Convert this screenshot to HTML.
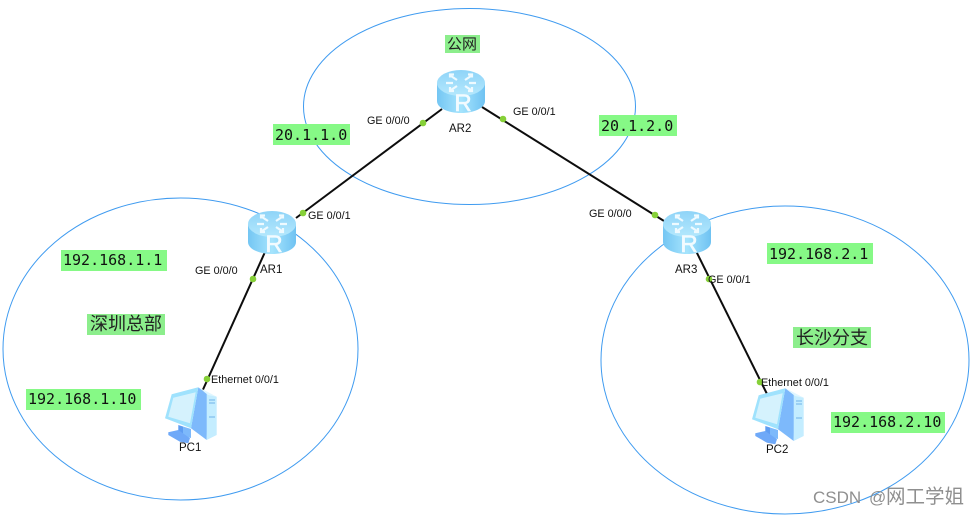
<!DOCTYPE html>
<html>
<head>
<meta charset="utf-8">
<style>
html,body{margin:0;padding:0;background:#fff;width:980px;height:515px;overflow:hidden}
svg{display:block}
.l{font:10.8px "Liberation Sans",sans-serif;fill:#111}
.n{font:11.5px "Liberation Sans",sans-serif;fill:#111}
.m{font:15px "DejaVu Sans Mono","Liberation Mono",monospace;fill:#111}
.c{font:18px "Liberation Sans","Noto Sans CJK SC",sans-serif;fill:#222}
</style>
</head>
<body>
<svg width="980" height="515" viewBox="0 0 980 515" xmlns="http://www.w3.org/2000/svg">
<defs>
<linearGradient id="rb" x1="0" x2="1" y1="0" y2="0">
<stop offset="0" stop-color="#74c6f3"/><stop offset=".5" stop-color="#a5e4fd"/><stop offset="1" stop-color="#6fc2f2"/>
</linearGradient>
<linearGradient id="rt" x1="0" x2="0" y1="0" y2="1">
<stop offset="0" stop-color="#8fd4f8"/><stop offset="1" stop-color="#b4e8fd"/>
</linearGradient>
<g id="router">
<path d="M0 13V31C0 38 11 43 24 43S48 38 48 31V13Z" fill="url(#rb)"/>
<ellipse cx="24" cy="13" rx="24" ry="13" fill="url(#rt)"/>
<g stroke="#eefaff" stroke-width="2.2" fill="none">
<path d="M14 6l6 4M17 4.5l-4 0 0 3"/><path d="M34 6l-6 4M31 4.5l4 0 0 3"/>
<path d="M14 20l6-4M13 17l0 4 4 0"/><path d="M34 20l-6-4M35 17l0 4-4 0"/>
<path d="M9 13h7M32 13h7"/>
</g>
</g>
<g id="pc">
<path d="M34.3 -0.7L44.3 7 42.7 52 27 40.3Z" fill="#7db9fb"/>
<path d="M42.7 5.3L52.7 8.7V47L42.7 52Z" fill="#c4edff"/>
<path d="M34.3 -0.7L40 2 52.7 8.7 44 7Z" fill="#dff6ff"/>
<path d="M45 12h6M45 15h6M45 29h6" stroke="#6fb2ea" stroke-width="1"/>
<path d="M14.3 37L19 38.5V48L14.3 46Z" fill="#5f9df2"/>
<path d="M19 38.5L27 41V50L19 48Z" fill="#7db9fb"/>
<path d="M4.3 44.3L14.3 42 26 50.3 24.3 55.3 16 53.7 4.3 47Z" fill="#6fa9f8"/>
<path d="M7.7 6.3L34.3 -0.7 27 40.3 1 30.3Z" fill="#9fe2fd"/>
<path d="M9.3 9.7L31.7 4.3 26 35.3 4.3 28.7Z" fill="#d5f2fd"/>
</g>
</defs>

<rect width="980" height="515" fill="#fff"/>

<g fill="none" stroke="#3f9bf0" stroke-width="1">
<ellipse cx="469.5" cy="106.5" rx="166" ry="98"/>
<ellipse cx="180.5" cy="349" rx="177.5" ry="151"/>
<ellipse cx="785" cy="360" rx="184" ry="154"/>
</g>

<g stroke="#0d0d0d" stroke-width="2" fill="none">
<line x1="442" y1="109" x2="296" y2="218"/>
<line x1="482" y1="107" x2="664" y2="221"/>
<line x1="265" y1="252" x2="201" y2="394"/>
<line x1="696" y1="251" x2="767" y2="394"/>
</g>

<use href="#router" x="437" y="70"/>
<use href="#router" x="248" y="211"/>
<use href="#router" x="663" y="211"/>
<g font-family="Liberation Sans, sans-serif" font-size="24" fill="#f2fbff" stroke="#f2fbff" stroke-width=".6" text-anchor="middle">
<text x="463" y="111">R</text>
<text x="274" y="252">R</text>
<text x="689" y="252">R</text>
</g>

<use href="#pc" x="164" y="388"/>
<use href="#pc" x="751" y="389"/>

<g fill="#86d038">
<circle cx="423" cy="123" r="3.3"/>
<circle cx="503" cy="119" r="3.3"/>
<circle cx="303" cy="213" r="3.3"/>
<circle cx="655" cy="215" r="3.3"/>
<circle cx="253" cy="279" r="3.3"/>
<circle cx="207" cy="379" r="3.3"/>
<circle cx="709" cy="279" r="3.3"/>
<circle cx="760" cy="382" r="3.3"/>
</g>

<g fill="#86f986">
<rect x="273" y="124" width="77" height="21"/>
<rect x="599" y="115" width="78" height="21"/>
<rect x="61" y="250" width="106" height="21"/>
<rect x="26" y="389" width="115" height="21"/>
<rect x="767" y="243" width="106" height="21"/>
<rect x="831" y="412" width="114" height="21"/>
</g>
<g fill="#8cee8c">
<rect x="87" y="314" width="78" height="21"/>
<rect x="793" y="327" width="78" height="21"/>
<rect x="445" y="35" width="35" height="18"/>
</g>

<text class="m" x="275" y="140">20.1.1.0</text>
<text class="m" x="601" y="131">20.1.2.0</text>
<text class="m" x="63" y="265">192.168.1.1</text>
<text class="m" x="28" y="404">192.168.1.10</text>
<text class="m" x="769" y="259">192.168.2.1</text>
<text class="m" x="833" y="427">192.168.2.10</text>

<text class="c" x="90" y="330">深圳总部</text>
<text class="c" x="796" y="344">长沙分支</text>
<text class="c" x="447" y="49" style="font-size:15px">公网</text>

<text class="l" x="367" y="124">GE 0/0/0</text>
<text class="l" x="513" y="115">GE 0/0/1</text>
<text class="l" x="308" y="219">GE 0/0/1</text>
<text class="l" x="589" y="217">GE 0/0/0</text>
<text class="l" x="195" y="274">GE 0/0/0</text>
<text class="l" x="708" y="283">GE 0/0/1</text>
<text class="l" x="211" y="383">Ethernet 0/0/1</text>
<text class="l" x="761" y="386">Ethernet 0/0/1</text>
<text class="n" x="449" y="132">AR2</text>
<text class="n" x="260" y="273">AR1</text>
<text class="n" x="675" y="273">AR3</text>
<text class="n" x="179" y="451">PC1</text>
<text class="n" x="766" y="453">PC2</text>

<g font-family="Liberation Sans, Noto Sans CJK SC, sans-serif" fill="#8f8f8f">
<text x="813" y="503" font-size="17">CSDN</text>
<text x="869" y="503" font-size="17">@</text>
<text x="886" y="503" font-size="19.5">网工学姐</text>
</g>
</svg>
</body>
</html>
